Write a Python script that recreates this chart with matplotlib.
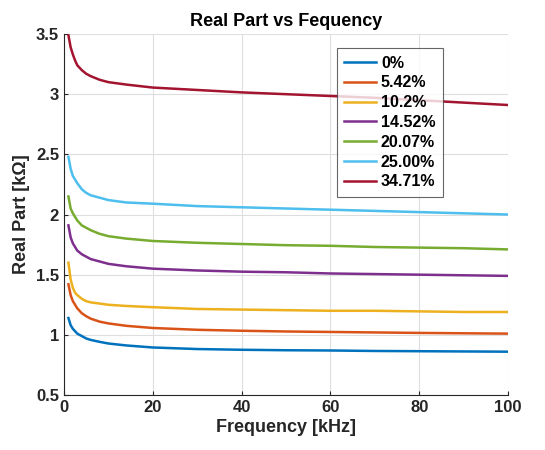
"""
Real part of impedance vs frequency, MATLAB-style line chart
"""

import matplotlib
matplotlib.use('Agg')
import matplotlib.pyplot as plt

# frequency points (kHz)
freq = [1, 1.5, 2, 2.5, 3, 4, 5, 6, 8, 10, 14, 20, 30, 40, 50, 60, 70, 80, 90, 100]

# real part (kOhm) for each concentration
r_0 = [1.14, 1.08, 1.05, 1.03, 1.01, 0.99, 0.97, 0.958, 0.942, 0.928, 0.912, 0.895,
       0.882, 0.876, 0.872, 0.87, 0.866, 0.864, 0.862, 0.86]
r_542 = [1.42, 1.33, 1.28, 1.25, 1.22, 1.18, 1.155, 1.135, 1.11, 1.095, 1.075, 1.057,
         1.042, 1.034, 1.028, 1.024, 1.02, 1.016, 1.013, 1.01]
r_102 = [1.60, 1.46, 1.39, 1.35, 1.33, 1.30, 1.28, 1.27, 1.26, 1.25, 1.24, 1.23,
         1.215, 1.21, 1.205, 1.20, 1.20, 1.195, 1.19, 1.19]
r_1452 = [1.91, 1.81, 1.76, 1.73, 1.70, 1.67, 1.65, 1.63, 1.61, 1.59, 1.57, 1.55,
          1.535, 1.525, 1.52, 1.51, 1.505, 1.50, 1.495, 1.49]
r_2007 = [2.15, 2.05, 2.01, 1.98, 1.95, 1.91, 1.89, 1.87, 1.84, 1.82, 1.80, 1.78,
          1.765, 1.755, 1.745, 1.74, 1.73, 1.725, 1.72, 1.71]
r_2500 = [2.48, 2.38, 2.32, 2.29, 2.26, 2.21, 2.18, 2.16, 2.14, 2.12, 2.10, 2.09,
          2.07, 2.06, 2.05, 2.04, 2.03, 2.02, 2.01, 2.00]
r_3471 = [3.49, 3.39, 3.33, 3.28, 3.24, 3.20, 3.17, 3.15, 3.12, 3.10, 3.08, 3.055,
          3.035, 3.015, 3.00, 2.985, 2.97, 2.95, 2.93, 2.91]

labels = ['0%', '5.42%', '10.2%', '14.52%', '20.07%', '25.00%', '34.71%']
series = [r_0, r_542, r_102, r_1452, r_2007, r_2500, r_3471]
colors = ['#0072BD', '#D95319', '#EDB120', '#7E2F8E', '#77AC30', '#4DBEEE', '#A2142F']

plt.rcParams['font.family'] = ['Liberation Sans', 'DejaVu Sans']
plt.rcParams['font.weight'] = 'bold'

fig = plt.figure(figsize=(5.45, 4.5), dpi=100)
ax = fig.add_axes([0.1174, 0.1222, 0.8147, 0.8022])

for vals, lab, col in zip(series, labels, colors):
    ax.plot(freq, vals, color=col, linewidth=1.8, label=lab)

ax.set_xlim(0, 100)
ax.set_ylim(0.5, 3.5)
ax.set_xticks([0, 20, 40, 60, 80, 100])
ax.set_yticks([0.5, 1, 1.5, 2, 2.5, 3, 3.5])
ax.set_yticklabels(['0.5', '1', '1.5', '2', '2.5', '3', '3.5'])
ax.tick_params(direction='in', length=3, labelsize=12, colors='#262626', width=0.8)
for t in ax.get_xticklabels() + ax.get_yticklabels():
    t.set_fontweight('bold')

ax.grid(True, color='#dedede', linewidth=0.8)
ax.set_axisbelow(True)
ax.spines['top'].set_visible(False)
ax.spines['right'].set_visible(False)
for s in ['left', 'bottom']:
    ax.spines[s].set_color('#262626')
    ax.spines[s].set_linewidth(0.8)

ax.set_xlabel('Frequency [kHz]', fontsize=13, fontweight='bold', color='#262626', labelpad=3)
ax.set_ylabel('Real Part [k\u03a9]', fontsize=13, fontweight='bold', color='#262626', labelpad=4)
ax.set_title('Real Part vs Fequency', fontsize=13, fontweight='bold', color='black', pad=6)

leg = ax.legend(loc='upper left', bbox_to_anchor=(0.615, 0.96), fontsize=11.5,
                frameon=True, fancybox=False, edgecolor='#404040', handlelength=2.0,
                handletextpad=0.3, borderpad=0.45, labelspacing=0.3, borderaxespad=0)
leg.get_frame().set_linewidth(0.8)
for t in leg.get_texts():
    t.set_fontweight('bold')

plt.savefig('out.png', dpi=100)
plt.close()
